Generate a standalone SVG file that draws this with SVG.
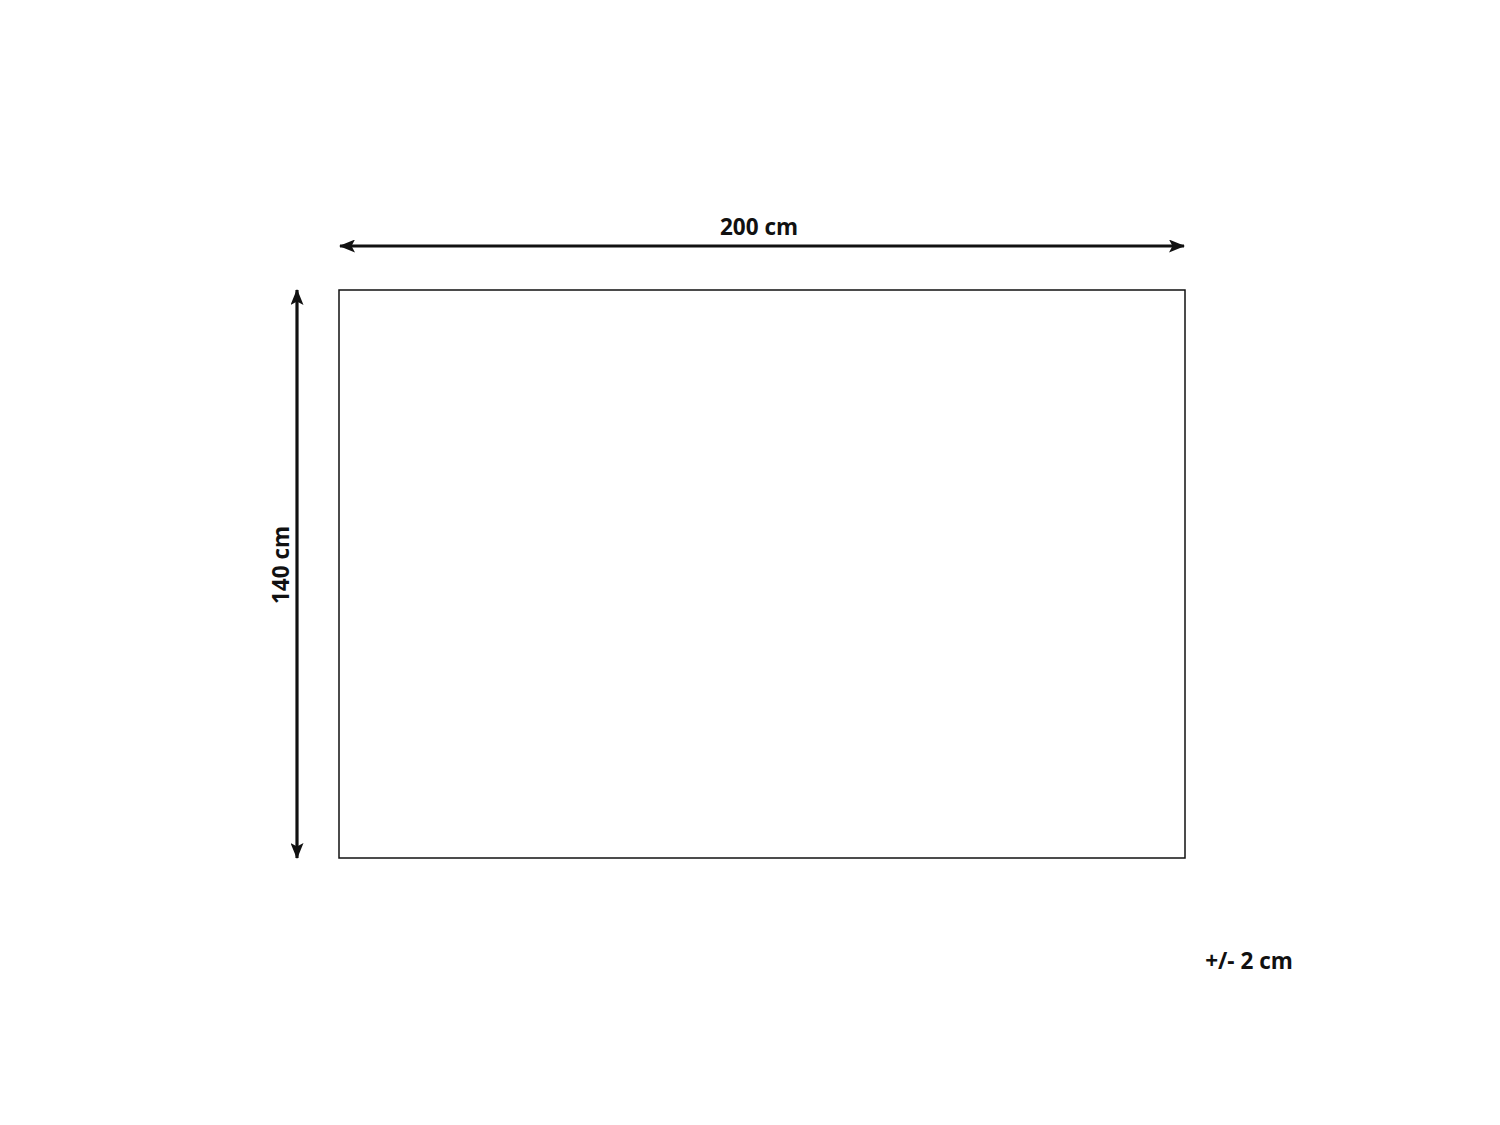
<svg xmlns="http://www.w3.org/2000/svg" width="1500" height="1125" viewBox="0 0 1500 1125">
<style>
.lbl{font-family:"Open Sans","Liberation Sans",sans-serif;font-weight:700;font-size:22.5px;fill:#111}
.dim{stroke:#111;stroke-width:3.2;fill:none}
</style>
<defs>
<marker id="ah" viewBox="0 0 16 13" refX="15" refY="6.5" markerWidth="16" markerHeight="13" markerUnits="userSpaceOnUse" orient="auto-start-reverse">
<path d="M0,0 L16,6.5 L0,13 L3.5,6.5 Z" fill="#111"/>
</marker>
</defs>
<rect width="1500" height="1125" fill="#fff"/>
<g id="rug">
<rect x="339" y="290" width="846" height="568" fill="#fff" stroke="#111" stroke-width="1.5"/>
</g>
<g id="connectors">
<line class="dim" x1="340" y1="246" x2="1184" y2="246" marker-start="url(#ah)" marker-end="url(#ah)"/>
<line class="dim" x1="297" y1="290" x2="297" y2="858" marker-start="url(#ah)" marker-end="url(#ah)"/>
</g>
<g id="labels">
<text class="lbl" x="759" y="235" text-anchor="middle">200 cm</text>
<text class="lbl" transform="translate(289,565) rotate(-90)" text-anchor="middle">140 cm</text>
<text class="lbl" x="1249" y="969" text-anchor="middle">+/- 2 cm</text>
</g>
</svg>
